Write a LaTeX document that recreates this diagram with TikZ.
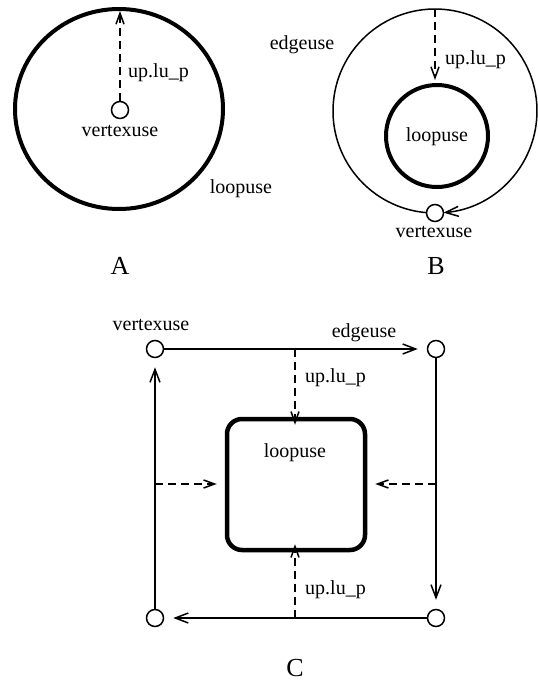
\documentclass[tikz,border=0pt]{standalone}
\usepackage{fontspec}
\setmainfont{Liberation Serif}
\usetikzlibrary{arrows.meta}
\begin{document}
\begin{tikzpicture}[x=1pt,y=-1pt,
  every node/.style={font=\fontsize{20}{24}\selectfont, inner sep=0pt},
  vtx/.style={circle, draw, line width=1.5pt, minimum size=17pt, fill=white},
  thin/.style={line width=1.5pt},
  loopline/.style={line width=4pt},
  edgearrow/.style={line width=1.5pt, shorten >=9pt,
    -{Straight Barb[length=13pt,width=10pt,line width=1.5pt]}},
  ptrarrow/.style={line width=1.5pt, dash pattern=on 8pt off 5pt,
    -{Straight Barb[length=11pt,width=8pt,line width=1.5pt]}},
  panel/.style={font=\fontsize{26}{30}\selectfont}]
\useasboundingbox (0,0) rectangle (538,683);

% ---- A: a loop made of a single vertex ----
\coordinate (Ac) at (119,109);
\draw[loopline] (Ac) ellipse [x radius=104, y radius=100];
\coordinate (Atop) at (120,11);
\node[vtx] (Av) at (120,110) {};
\draw[ptrarrow] (Av.north) -- (Atop);
\node[anchor=west] (Aup) at (128,73) {up.lu\_p};
\node (Avl) at (120,131) {vertexuse};
\node (All) at (241,189) {loopuse};
\node[panel] (A) at (120,266) {A};

% ---- B: a loop with one edge ----
\coordinate (Bc) at (435,111);
\draw[loopline] (437,136) circle [radius=51];
\coordinate (Btop) at (435,9);
\coordinate (Bin) at (435,80);
\draw[ptrarrow] (Btop) -- (Bin);
\draw[thin, -{Straight Barb[length=13pt,width=10pt,line width=1.5pt]}]
  (Bc) ++(94.8:{102}) arc [start angle=94.8, end angle=445.2, x radius=102, y radius=102];
\node[vtx] (Bv) at (435,213) {};
\node[anchor=west] (Bup) at (445,60) {up.lu\_p};
\node (Bel) at (302,45) {edgeuse};
\node (Bll) at (437,137) {loopuse};
\node (Bvl) at (434,232) {vertexuse};
\node[panel] (B) at (436,266) {B};

% ---- C: a loop with four edges ----
\node[vtx] (C1) at (155,349) {};
\node[vtx] (C2) at (436,349) {};
\node[vtx] (C3) at (436,618) {};
\node[vtx] (C4) at (155,618) {};
\draw[edgearrow] (C1) -- (C2);
\draw[edgearrow] (C2) -- (C3);
\draw[edgearrow] (C3) -- (C4);
\draw[edgearrow] (C4) -- (C1);
\node[draw, line width=4.5pt, rounded corners=15pt, minimum width=138pt,
  minimum height=131pt] (Cl) at (296,484.5) {};
\coordinate (Ct) at (295,349);
\coordinate (Cb) at (295,618);
\coordinate (Cw) at (155,484);
\coordinate (Ce) at (436,484);
\draw[ptrarrow] (Ct) -- ([yshift=-8pt]Cl.north -| Ct);
\draw[ptrarrow] (Cb) -- ([yshift=8pt]Cl.south -| Cb);
\draw[ptrarrow] (Cw) -- ([xshift=-8pt]Cl.west |- Cw);
\draw[ptrarrow] (Ce) -- ([xshift=8pt]Cl.east |- Ce);
\node (Cll) at (295,453) {loopuse};
\node[anchor=west] (Cup1) at (305,378) {up.lu\_p};
\node[anchor=west] (Cup2) at (305,590) {up.lu\_p};
\node (Cvl) at (151,325) {vertexuse};
\node (Cel) at (364,333) {edgeuse};
\node[panel] (C) at (295,668) {C};
\end{tikzpicture}
\end{document}
